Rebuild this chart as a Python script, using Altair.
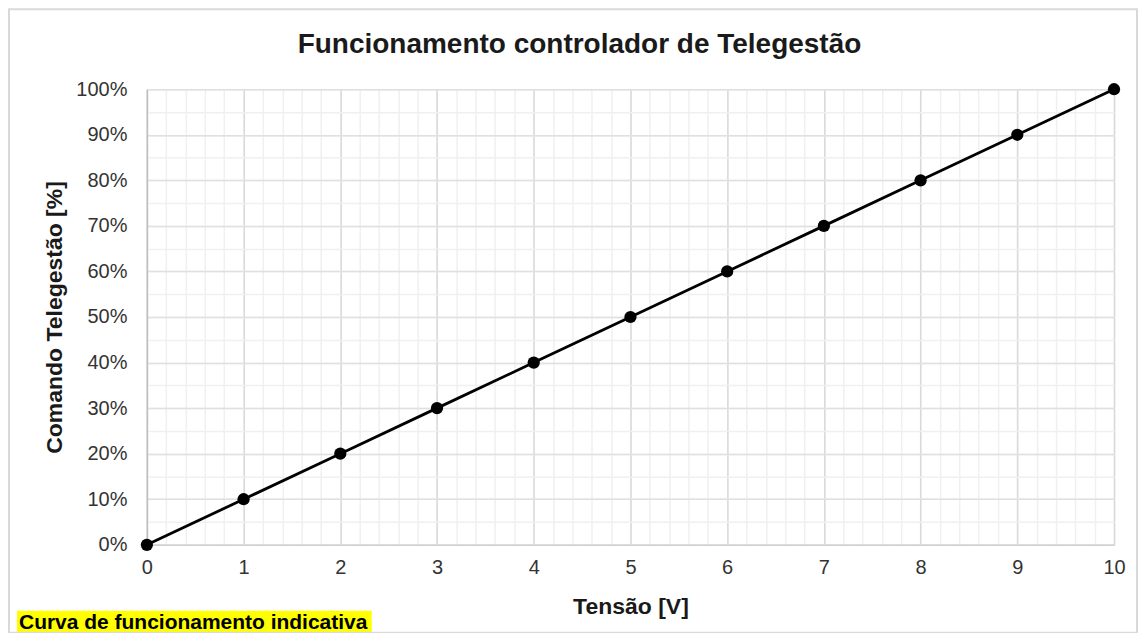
import altair as alt
import pandas as pd

# Data
tensao = [0, 1, 2, 3, 4, 5, 6, 7, 8, 9, 10]
comando = [0, 10, 20, 30, 40, 50, 60, 70, 80, 90, 100]

x_major = [0, 1, 2, 3, 4, 5, 6, 7, 8, 9, 10]
x_minor = [round(i * 0.2, 1) for i in range(51)]
y_major = [0, 10, 20, 30, 40, 50, 60, 70, 80, 90, 100]
y_minor = [i * 5 for i in range(21)]

title_text = "Funcionamento controlador de Telegestão"
x_title = "Tensão [V]"
y_title = "Comando Telegestão [%]"
footnote = "Curva de funcionamento indicativa"

FONT = "Liberation Sans"

df = pd.DataFrame({"v": tensao, "c": comando})

xscale = alt.Scale(domain=[0, 10], nice=False, zero=False)
yscale = alt.Scale(domain=[0, 100], nice=False, zero=False)

minor = alt.Chart(df).mark_point(opacity=0).encode(
    x=alt.X("v:Q", scale=xscale, title=None,
            axis=alt.Axis(values=x_minor, orient="top", grid=True, gridColor="#f0f0f0",
                          gridWidth=1.5, labels=False, ticks=False, domain=False)),
    y=alt.Y("c:Q", scale=yscale, title=None,
            axis=alt.Axis(values=y_minor, orient="right", grid=True, gridColor="#f0f0f0",
                          gridWidth=1.5, labels=False, ticks=False, domain=False)),
)

line = alt.Chart(df).mark_line(
    color="black", strokeWidth=2.8,
    point=alt.OverlayMarkDef(filled=True, size=150, color="black", opacity=1),
).encode(
    x=alt.X("v:Q", scale=xscale, title=x_title,
            axis=alt.Axis(values=x_major, orient="bottom", grid=True, gridColor="#d9d9d9",
                          gridWidth=1.5, ticks=False, domain=True, domainColor="#d0d0d0",
                          domainWidth=1.5, labelPadding=13, labelFontSize=20, labelFont=FONT,
                          labelColor="#333333", labelFlush=False, titleFont=FONT,
                          titleFontSize=23, titleFontWeight="bold", titleColor="#1a1a1a",
                          titleX=484, titleY=69, titleBaseline="alphabetic",
                          titleAlign="center")),
    y=alt.Y("c:Q", scale=yscale, title=y_title,
            axis=alt.Axis(values=y_major, orient="left", grid=True, gridColor="#e0e0e0",
                          gridWidth=1.5, ticks=False, domain=True, domainColor="#bfbfbf",
                          domainWidth=1.5, labelPadding=20, labelFontSize=20, labelFont=FONT,
                          labelColor="#333333", labelExpr="datum.value + '%'",
                          titleFont=FONT, titleFontSize=23, titleFontWeight="bold",
                          titleColor="#1a1a1a", titleX=-85, titleY=228, titleAngle=-90,
                          titleBaseline="alphabetic", titleAlign="center")),
)

note_df = pd.DataFrame({"t": [footnote]})
note_bg = alt.Chart(note_df).mark_rect(color="#ffff00").encode(
    x=alt.value(-130), x2=alt.value(225), y=alt.value(522), y2=alt.value(546)
)
note_txt = alt.Chart(note_df).mark_text(
    align="left", baseline="middle", fontSize=21, fontWeight="bold", font=FONT, color="black"
).encode(x=alt.value(-128), y=alt.value(534), text="t:N")

border = alt.Chart(note_df).mark_rect(fillOpacity=0, stroke="#d9d9d9", strokeWidth=2).encode(
    x=alt.value(-138), x2=alt.value(991), y=alt.value(-80), y2=alt.value(544)
)

chart = (
    alt.layer(minor, line, note_bg, note_txt, border)
    .resolve_axis(x="independent", y="independent")
    .properties(
        width=968,
        height=456,
        autosize=alt.AutoSizeParams(type="none"),
        padding={"left": 139, "top": 81, "right": 25, "bottom": 88},
        title=alt.TitleParams(title_text, font=FONT, fontSize=28, fontWeight="bold",
                              color="#1a1a1a", anchor="middle", frame="group", dx=-51,
                              offset=-51),
    )
    .configure_view(stroke=None)
    .configure(background="white")
)

chart.save("out.html", embed_options={"renderer": "svg", "actions": False})
